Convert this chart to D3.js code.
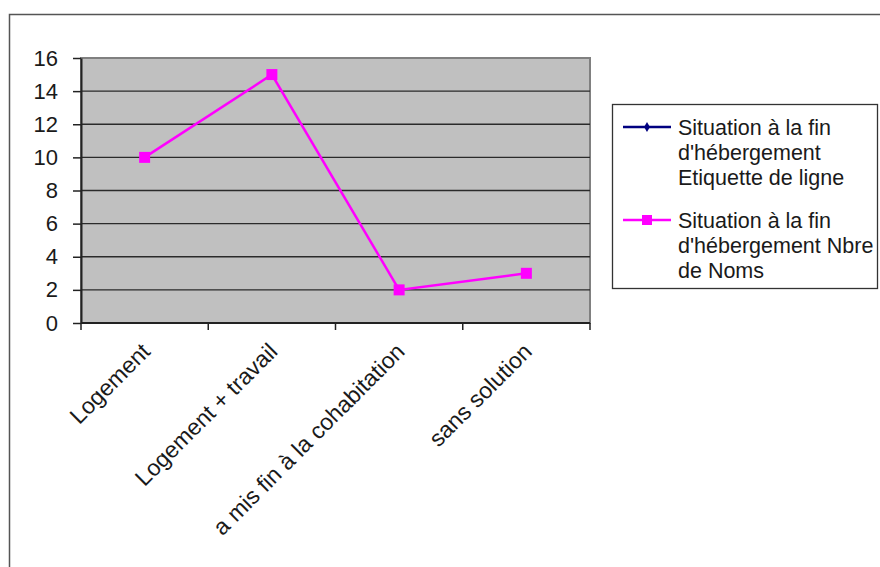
<!DOCTYPE html>
<html>
<head>
<meta charset="utf-8">
<script src="https://cdn.jsdelivr.net/npm/d3@7"></script>
<style>
  html, body { margin: 0; padding: 0; background: #fff; }
  svg { display: block; font-family: "Liberation Sans", Arial, sans-serif; }
</style>
</head>
<body>
<svg id="chart" width="880" height="567"></svg>
<script>
// Situation at the end of accommodation
const categories = ["Logement", "Logement + travail", "a mis fin à la cohabitation", "sans solution"];
const nbreNoms = [10, 15, 2, 3];
const yTicks = [0, 2, 4, 6, 8, 10, 12, 14, 16];
const seriesNames = [
  ["Situation à la fin", "d'hébergement", "Etiquette de ligne"],
  ["Situation à la fin", "d'hébergement Nbre", "de Noms"]
];
const seriesColors = ["#000080", "#FF00FF"];

const svg = d3.select("#chart");

// outer chart frame
svg.append("rect")
  .attr("x", 9.5).attr("y", 14.5)
  .attr("width", 900).attr("height", 600)
  .attr("fill", "#fff").attr("stroke", "#555").attr("stroke-width", 1.5);

const plot = { left: 81, top: 58, right: 590, bottom: 323 };

const x = d3.scaleBand().domain(categories).range([plot.left, plot.right]).paddingInner(0).paddingOuter(0);
const y = d3.scaleLinear().domain([0, 16]).range([plot.bottom, plot.top]);

// plot background
svg.append("rect")
  .attr("x", plot.left).attr("y", plot.top)
  .attr("width", plot.right - plot.left).attr("height", plot.bottom - plot.top)
  .attr("fill", "#C0C0C0").attr("stroke", "#808080").attr("stroke-width", 2);

// horizontal gridlines
svg.append("g").selectAll("line")
  .data(yTicks.filter(d => d > 0 && d < 16))
  .join("line")
  .attr("x1", plot.left).attr("x2", plot.right)
  .attr("y1", d => y(d)).attr("y2", d => y(d))
  .attr("stroke", "#2a2a2a").attr("stroke-width", 1.3);

// y axis
const yAxis = svg.append("g")
  .attr("transform", `translate(${plot.left},0)`)
  .call(d3.axisLeft(y).tickValues(yTicks).tickSize(8).tickSizeOuter(0).tickPadding(15));
yAxis.attr("font-size", 22).attr("font-family", "Liberation Sans, Arial, sans-serif");
yAxis.select(".domain").attr("stroke", "#222").attr("stroke-width", 2);
yAxis.selectAll(".tick line").attr("stroke", "#222").attr("stroke-width", 1.5);
yAxis.selectAll(".tick text").attr("fill", "#1a1a1a");

// x axis with ticks at category boundaries
const xBoundaries = categories.map(c => x(c)).concat([plot.right]);
svg.append("line")
  .attr("x1", plot.left).attr("x2", plot.right)
  .attr("y1", plot.bottom).attr("y2", plot.bottom)
  .attr("stroke", "#222").attr("stroke-width", 2);
svg.append("g").selectAll("line")
  .data(xBoundaries)
  .join("line")
  .attr("x1", d => d).attr("x2", d => d)
  .attr("y1", plot.bottom).attr("y2", plot.bottom + 7)
  .attr("stroke", "#222").attr("stroke-width", 1.5);

// rotated category labels
svg.append("g").selectAll("text")
  .data(categories)
  .join("text")
  .attr("transform", d => `translate(${x(d) + x.bandwidth() / 2 + 7},${plot.bottom + 30}) rotate(-45)`)
  .attr("text-anchor", "end")
  .attr("font-size", 23)
  .attr("fill", "#1a1a1a")
  .text(d => d);

// data line
const cx = d => x(d) + x.bandwidth() / 2;
const line = d3.line().x((d, i) => cx(categories[i])).y(d => y(d));
svg.append("path")
  .datum(nbreNoms)
  .attr("d", line)
  .attr("fill", "none")
  .attr("stroke", seriesColors[1])
  .attr("stroke-width", 2.5);

const ms = 11;
svg.append("g").selectAll("rect")
  .data(nbreNoms)
  .join("rect")
  .attr("x", (d, i) => cx(categories[i]) - ms / 2)
  .attr("y", d => y(d) - ms / 2)
  .attr("width", ms).attr("height", ms)
  .attr("fill", seriesColors[1]);

// legend
const legend = svg.append("g");
legend.append("rect")
  .attr("x", 612.5).attr("y", 104.5)
  .attr("width", 265).attr("height", 184)
  .attr("fill", "#fff").attr("stroke", "#333").attr("stroke-width", 1.3);

const entryY = [127, 220];
const lineH = 25;
seriesNames.forEach((lines, i) => {
  const g = legend.append("g");
  g.append("line")
    .attr("x1", 623).attr("x2", 671)
    .attr("y1", entryY[i]).attr("y2", entryY[i])
    .attr("stroke", seriesColors[i]).attr("stroke-width", 2.5);
  if (i === 0) {
    g.append("path")
      .attr("d", d3.symbol(d3.symbolDiamond, 30)())
      .attr("transform", `translate(647,${entryY[i]})`)
      .attr("fill", seriesColors[i]);
  } else {
    g.append("rect")
      .attr("x", 647 - 5).attr("y", entryY[i] - 5)
      .attr("width", 10).attr("height", 10)
      .attr("fill", seriesColors[i]);
  }
  const t = g.append("text")
    .attr("x", 678).attr("y", entryY[i] + 8)
    .attr("font-size", 21.5).attr("fill", "#1a1a1a");
  lines.forEach((s, j) => {
    t.append("tspan").attr("x", 678).attr("dy", j === 0 ? 0 : lineH).text(s);
  });
});
</script>
</body>
</html>
